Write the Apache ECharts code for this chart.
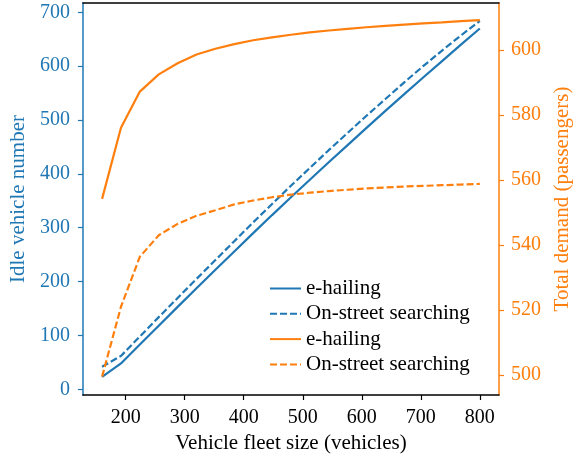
<!DOCTYPE html>
<html>
<head>
<meta charset="utf-8">
<script src="https://cdn.jsdelivr.net/npm/echarts@6/dist/echarts.min.js"></script>
<style>html,body{margin:0;padding:0;background:#fff}#c{width:582px;height:460px}</style>
</head>
<body>
<div id="c"></div>
<script>
const fleetSize = [160,192,224,256,288,320,352,384,416,448,480,512,544,576,608,640,672,704,736,768,800];
const idleEhailing = [23,48,83,118,153,187.5,222,256,290,323.5,356.5,389,421.5,453.5,485.5,517,548,579,609.5,640,670];
const idleOnStreet = [42,62,98,134,169.5,205,240,275,310,344,378,411,444,476,508,539,570,600,629,657,684];
const demandEhailing = [554.2,576.1,587.2,592.5,595.9,598.6,600.4,601.8,603,603.9,604.7,605.4,606,606.5,607,607.4,607.8,608.2,608.5,608.9,609.2];
const demandOnStreet = [499.5,521,536.4,543,546.5,549,550.7,552.5,553.7,554.7,555.5,556.1,556.6,557,557.4,557.7,558,558.2,558.4,558.6,558.8];
const xTicks = [200,300,400,500,600,700,800];
const leftTicks = [0,100,200,300,400,500,600,700];
const rightTicks = [500,520,540,560,580,600];
const seriesNames = ['e-hailing','On-street searching','e-hailing ','On-street searching '];

const BLUE = '#1f77b4', ORANGE = '#ff7f0e';
const FONT = "'Liberation Serif','DejaVu Serif',serif";
const pair = (xs, ys) => xs.map((x, i) => [x, ys[i]]);

const chart = echarts.init(document.getElementById('c'), null, {renderer: 'canvas'});
chart.setOption({
  animation: false,
  backgroundColor: '#fff',
  textStyle: {fontFamily: FONT},
  grid: {left: 82, right: 83, top: 3, bottom: 65, containLabel: false},
  xAxis: [{
    type: 'value', min: 127.5, max: 832.5, position: 'bottom',
    name: 'Vehicle fleet size (vehicles)', nameLocation: 'middle', nameGap: 34,
    nameTextStyle: {fontFamily: FONT, fontSize: 21, color: '#000'},
    axisLine: {show: true, onZero: false, lineStyle: {color: '#000', width: 1.5}},
    axisTick: {show: true, inside: false, length: 5, customValues: xTicks, lineStyle: {color: '#000', width: 1.2}},
    axisLabel: {customValues: xTicks, margin: 13, fontFamily: FONT, fontSize: 20, color: '#000'},
    splitLine: {show: false}
  }, {
    type: 'value', min: 127.5, max: 832.5, position: 'top',
    axisLine: {show: true, onZero: false, lineStyle: {color: '#000', width: 1.5}},
    axisTick: {show: false}, axisLabel: {show: false}, splitLine: {show: false}
  }],
  yAxis: [{
    type: 'value', min: -10.6, max: 717.3, position: 'left',
    name: 'Idle vehicle number', nameLocation: 'middle', nameGap: 42,
    nameTextStyle: {fontFamily: FONT, fontSize: 21, color: BLUE},
    axisLine: {show: true, onZero: false, lineStyle: {color: BLUE, width: 1.5}},
    axisTick: {show: true, inside: false, length: 5, customValues: leftTicks, lineStyle: {color: BLUE, width: 1.2}},
    axisLabel: {customValues: leftTicks, margin: 13, fontFamily: FONT, fontSize: 20, color: BLUE},
    splitLine: {show: false}
  }, {
    type: 'value', min: 493.85, max: 614.46, position: 'right',
    name: 'Total demand (passengers)', nameLocation: 'middle', nameGap: 46,
    nameTextStyle: {fontFamily: FONT, fontSize: 21, color: ORANGE},
    axisLine: {show: true, onZero: false, lineStyle: {color: ORANGE, width: 1.5}},
    axisTick: {show: true, inside: false, length: 5, customValues: rightTicks, lineStyle: {color: ORANGE, width: 1.2}},
    axisLabel: {customValues: rightTicks, margin: 12, fontFamily: FONT, fontSize: 20, color: ORANGE},
    splitLine: {show: false}
  }],
  legend: {
    orient: 'vertical', left: 269, top: 278, padding: 0,
    itemWidth: 31, itemHeight: 14, itemGap: 4.3,
    data: seriesNames,
    itemStyle: {opacity: 0},
    textStyle: {fontFamily: FONT, fontSize: 21, color: '#000', lineHeight: 21},
    backgroundColor: 'transparent', borderWidth: 0
  },
  series: [
    {name: seriesNames[0], type: 'line', xAxisIndex: 0, yAxisIndex: 0, data: pair(fleetSize, idleEhailing),
     symbol: 'none', lineStyle: {color: BLUE, width: 2.2, type: 'solid'}, itemStyle: {color: BLUE}},
    {name: seriesNames[1], type: 'line', xAxisIndex: 0, yAxisIndex: 0, data: pair(fleetSize, idleOnStreet),
     symbol: 'none', lineStyle: {color: BLUE, width: 2.2, type: [7, 3]}, itemStyle: {color: BLUE}},
    {name: seriesNames[2], type: 'line', xAxisIndex: 0, yAxisIndex: 1, data: pair(fleetSize, demandEhailing),
     symbol: 'none', lineStyle: {color: ORANGE, width: 2.2, type: 'solid'}, itemStyle: {color: ORANGE}},
    {name: seriesNames[3], type: 'line', xAxisIndex: 0, yAxisIndex: 1, data: pair(fleetSize, demandOnStreet),
     symbol: 'none', lineStyle: {color: ORANGE, width: 2.2, type: [7, 3]}, itemStyle: {color: ORANGE}}
  ]
});
</script>
</body>
</html>
